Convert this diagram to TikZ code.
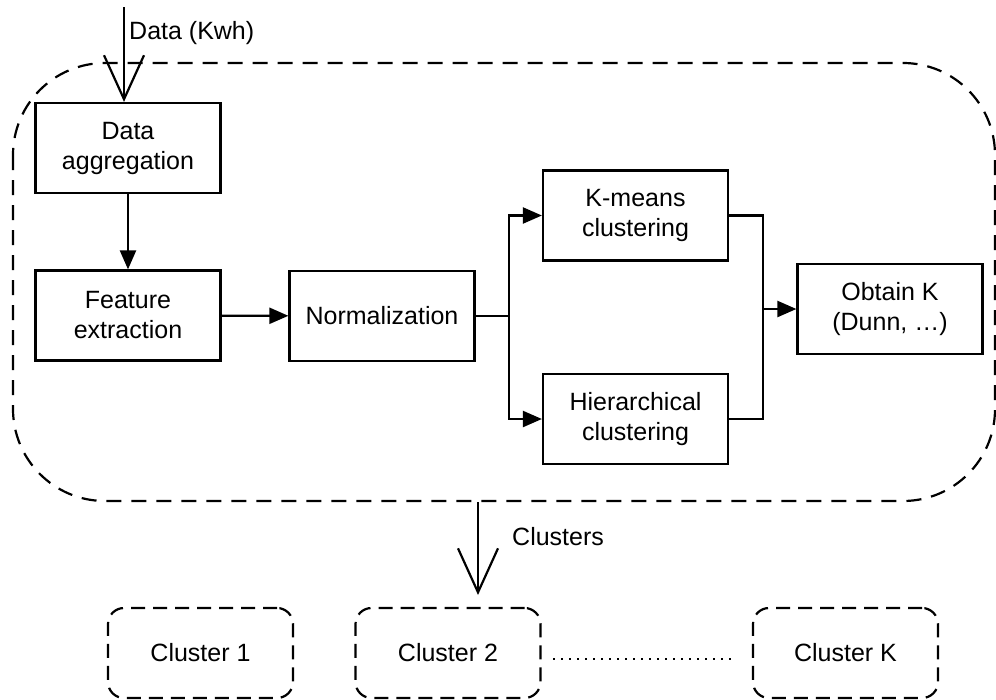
\documentclass[tikz,border=0pt]{standalone}
\usepackage{fontspec}
\setmainfont{Liberation Sans}
\usetikzlibrary{arrows.meta}
\begin{document}
\begin{tikzpicture}[x=1pt,y=-1pt,
  every node/.style={font=\fontsize{25}{30}\selectfont},
  procbox/.style={draw,line width=2.2pt,minimum width=185pt,minimum height=90pt,inner sep=0pt,align=center},
  clbox/.style={draw,line width=2.2pt,dash pattern=on 14pt off 8pt,rounded corners=16pt,minimum width=185pt,minimum height=90pt,inner sep=0pt,align=center},
  conn/.style={line width=2.2pt,-{Triangle[length=19pt,width=16pt]}},
  openarr/.style={line width=2.2pt,-{Straight Barb[length=44pt,width=40pt,line width=2.2pt]}},
  lbl/.style={anchor=west,inner sep=0pt}]
\useasboundingbox (0,0) rectangle (996,699);
% outer dashed region
\draw[line width=2.2pt,dash pattern=on 15pt off 10pt,rounded corners=92pt] (13,63) rectangle (995,501);
% process boxes
\node[procbox] (agg) at (128,148) {Data\\aggregation};
\node[procbox] (feat) at (128,315.5) {Feature\\extraction};
\node[procbox] (norm) at (382,316) {Normalization};
\node[procbox] (km) at (635.5,215.5) {K-means\\clustering};
\node[procbox] (hc) at (635.5,419) {Hierarchical\\clustering};
\node[procbox] (obt) at (890,309) {Obtain K\\(Dunn, …)};
% cluster boxes
\node[clbox] (c1) at (200.5,653) {Cluster 1};
\node[clbox] (c2) at (448,653) {Cluster 2};
\node[clbox] (ck) at (845.5,653) {Cluster K};
% input arrow
\coordinate (in) at (124,7);
\draw[openarr] (in) -- (agg.north -| in);
\node[lbl] (datalbl) at (129,33) {Data (Kwh)};
% flow
\draw[conn] (agg) -- (feat);
\draw[conn] (feat) -- (norm);
\coordinate (j1) at (509,316);
\coordinate (j2) at (763,309);
\draw[line width=2.2pt] (norm.east) -- (j1);
\draw[conn] (j1) |- (km.west);
\draw[conn] (j1) |- (hc.west);
\draw[line width=2.2pt] (km.east) -| (j2);
\draw[line width=2.2pt] (hc.east) -| (j2);
\draw[conn] (j2) -- (obt.west);
% output arrow
\coordinate (outs) at (478,502);
\coordinate (oute) at (478,595);
\draw[openarr] (outs) -- (oute);
\node[lbl] (clbl) at (512,537) {Clusters};
% dotted ellipsis
\coordinate (d1) at (553,659);
\coordinate (d2) at (735,659);
\draw[line width=2pt,dash pattern=on 2pt off 6pt] (d1) -- (d2);
\end{tikzpicture}
\end{document}
